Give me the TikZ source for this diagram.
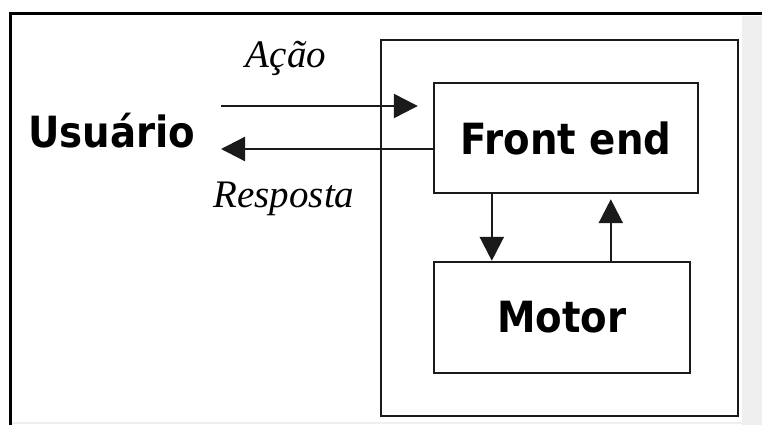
\documentclass[tikz,border=0pt]{standalone}
\usepackage{fontspec}
\usepackage{tikz}
\usetikzlibrary{arrows.meta, positioning, calc}
\newfontfamily\blkfont[FakeStretch=0.9]{DejaVu Sans}
\newfontfamily\lblfont{Liberation Serif}
\definecolor{frameline}{HTML}{000000}
\definecolor{boxline}{HTML}{1A1A1A}
\definecolor{edgegray}{HTML}{EFEFEF}
\tikzset{
  blk/.style   = {rectangle, draw=boxline, fill=white, line width=2.4pt,
                  align=center, inner sep=0pt,
                  font=\blkfont\bfseries\fontsize{43}{48}\selectfont},
  actor/.style = {inner sep=0pt, font=\blkfont\bfseries\fontsize{43}{48}\selectfont},
  lbl/.style   = {inner sep=0pt, font=\lblfont\itshape\fontsize{39}{44}\selectfont},
  flow/.style  = {-{Triangle[length=24pt, width=24pt]}, line width=2.4pt, draw=boxline},
}
\begin{document}
\begin{tikzpicture}[x=1pt, y=-1pt]
    \useasboundingbox (0,0) rectangle (762,425);
    % window edge
    \fill[edgegray] (742,16) rectangle (762,425);
    \draw[edgegray, line width=2pt] (10,423) -- (742,423);
    \draw[frameline, line width=3pt] (10,425) -- (10,14) -- (762,14);
    % system
    \node[blk, minimum width=357pt, minimum height=376pt] (sys) at (559.5,228) {};
    \node[blk, minimum width=264pt, minimum height=110pt] (front) at (566,138) {Front end};
    \node[blk, minimum width=256pt, minimum height=111pt] (motor) at (562,317.5) {Motor};
    \node[actor] (user) at (112,131) {Usuário};
    \coordinate (uin) at (221,106);
    \coordinate (uout) at (221,149);
    \draw[flow, shorten >=15pt] (uin) -- (uin -| front.west);
    \draw[flow] (uout -| front.west) -- (uout);
    \node[lbl] (acao) at (286,58) {Ação};
    \node[lbl] (resp) at (284,199) {Resposta};
    \draw[flow] ([xshift=59pt]front.south west) -- ([xshift=59pt]front.south west |- motor.north);
    \draw[flow, shorten >=5pt] ([xshift=178pt]motor.north west) -- ([xshift=178pt]motor.north west |- front.south);
\end{tikzpicture}
\end{document}
